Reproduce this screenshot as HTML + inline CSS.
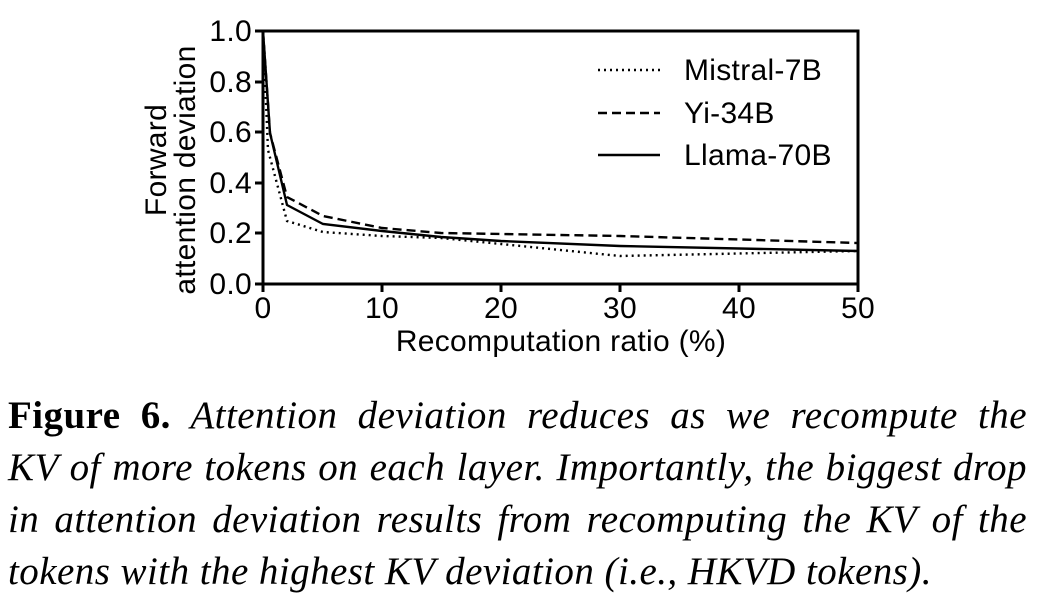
<!DOCTYPE html>
<html><head><style>
body{margin:0;width:1040px;height:602px;background:#fff;overflow:hidden;position:relative}
svg{position:absolute;left:0;top:0}
.cap{position:absolute;left:8px;width:1019px;font-family:"Liberation Serif",serif;font-size:39px;font-style:italic;color:#000;text-align:justify;text-align-last:justify;white-space:nowrap;line-height:52px;letter-spacing:0.45px}
.cap b{font-style:normal}
</style></head><body>
<svg width="1040" height="602" font-family="Liberation Sans, sans-serif" font-size="30" letter-spacing="0.3">
<g stroke="#000" stroke-width="3" fill="none">
<polyline points="263,284 263,31 858,31 858,284 263,284"/>
<line x1="263" y1="284" x2="263" y2="292"/><line x1="382" y1="284" x2="382" y2="292"/><line x1="501" y1="284" x2="501" y2="292"/><line x1="620" y1="284" x2="620" y2="292"/><line x1="739" y1="284" x2="739" y2="292"/><line x1="858" y1="284" x2="858" y2="292"/>
<line x1="255" y1="31" x2="263" y2="31"/><line x1="255" y1="82" x2="263" y2="82"/><line x1="255" y1="132" x2="263" y2="132"/><line x1="255" y1="183" x2="263" y2="183"/><line x1="255" y1="233" x2="263" y2="233"/><line x1="255" y1="284" x2="263" y2="284"/>
</g>
<g stroke="#000" fill="none" stroke-width="2.4">
<polyline points="263,31 270,133 287,205 323,224 382,231 441,237 501,241 620,246 858,251"/>
<polyline stroke-dasharray="9,5" points="263,31 270,133 287,197 323,216 382,228 441,233 501,234 620,236 858,243"/>
<polyline stroke-dasharray="2,4" points="263,31 268,150 287,221 323,232 382,236 441,238 501,244 620,256 858,251"/>
<line x1="598" y1="70" x2="660" y2="70" stroke-dasharray="2,4"/>
<line x1="598" y1="113" x2="660" y2="113" stroke-dasharray="9,5"/>
<line x1="598" y1="155" x2="660" y2="155"/>
</g>
<g text-anchor="end">
<text x="252" y="41">1.0</text><text x="252" y="92">0.8</text><text x="252" y="142">0.6</text><text x="252" y="193">0.4</text><text x="252" y="243">0.2</text><text x="252" y="294">0.0</text>
</g>
<g text-anchor="middle">
<text x="263" y="318">0</text><text x="382" y="318">10</text><text x="501" y="318">20</text><text x="620" y="318">30</text><text x="739" y="318">40</text><text x="858" y="318">50</text>
<text x="561" y="351">Recomputation ratio (%)</text>
<text transform="translate(166,160) rotate(-90)">Forward</text>
<text transform="translate(195,170) rotate(-90)">attention deviation</text>
</g>
<text x="684" y="80">Mistral-7B</text><text x="684" y="123">Yi-34B</text><text x="684" y="165">Llama-70B</text>
</svg>
<div class="cap" style="top:390px"><b>Figure 6.</b> Attention deviation reduces as we recompute the</div>
<div class="cap" style="top:442px">KV of more tokens on each layer. Importantly, the biggest drop</div>
<div class="cap" style="top:494px">in attention deviation results from recomputing the KV of the</div>
<div class="cap" style="top:546px;text-align-last:left">tokens with the highest KV deviation (i.e., HKVD tokens).</div>
</body></html>
